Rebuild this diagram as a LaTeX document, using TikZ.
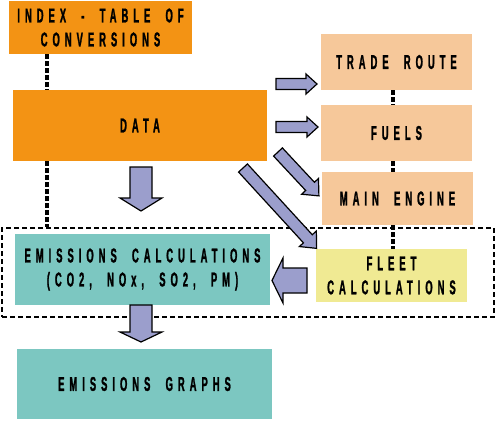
\documentclass[tikz,border=0pt]{standalone}
\usepackage{fontspec}
\newfontfamily\boxfont[FakeStretch=0.47,FakeBold=1.2,LetterSpace=25,WordSpace=2.0,BoldFont={Liberation Sans Bold}]{Liberation Sans}
\usetikzlibrary{calc}
\definecolor{dataorange}{HTML}{F39314}
\definecolor{peach}{HTML}{F6C89A}
\definecolor{fleetyellow}{HTML}{F0EA93}
\definecolor{calcteal}{HTML}{7CC7C1}
\definecolor{arrowblue}{HTML}{9B9ECC}
\tikzset{
  box/.style={inner sep=0pt,align=center,font=\boxfont\bfseries\fontsize{20}{24}\selectfont},
  link/.style={line width=3.5pt,dash pattern=on 4.5pt off 2.5pt},
  barrow/.style={draw=black,line width=1.2pt,fill=arrowblue,line join=miter}
}
% block arrow: tail, angle, length, shaft half width, head half width, head length
\newcommand{\BArrow}[6]{%
  \draw[barrow,shift={#1},rotate=#2]
    (0,-#4) -- (#3-#6,-#4) -- (#3-#6,-#5) -- (#3,0) -- (#3-#6,#5) -- (#3-#6,#4) -- (0,#4) -- cycle;}
\begin{document}
\begin{tikzpicture}[x=1pt,y=-1pt]
\useasboundingbox (0,0) rectangle (496,421);
% boxes
\node[box,fill=dataorange,minimum width=183,minimum height=53]
  (index) at (100.5,27.5) {INDEX - TABLE OF\\CONVERSIONS};
\node[box,fill=dataorange,minimum width=254,minimum height=71]
  (data) at (140,125.5) {DATA};
\node[box,fill=peach,minimum width=151,minimum height=56]
  (trade) at (396.5,62) {TRADE ROUTE};
\node[box,fill=peach,minimum width=151,minimum height=56]
  (fuels) at (396.5,133) {FUELS};
\node[box,fill=peach,minimum width=151,minimum height=53]
  (engine) at (397.5,198.5) {MAIN ENGINE};
\node[draw,line width=2.5pt,dash pattern=on 5pt off 3pt,minimum width=492,minimum height=89]
  (frame) at (248,272.5) {};
\node[box,fill=fleetyellow,minimum width=151,minimum height=53]
  (fleet) at (391.5,275.5) {FLEET\\CALCULATIONS};
\node[box,fill=calcteal,minimum width=255,minimum height=71]
  (calc) at (142.5,269.5) {EMISSIONS CALCULATIONS\\(CO2, NOx, SO2, PM)};
\node[box,fill=calcteal,minimum width=255,minimum height=70]
  (graphs) at (144.5,384) {EMISSIONS GRAPHS};
% dotted links
\draw[link] (47,0 |- index.south) -- (47,0 |- data.north);
\draw[link] (47,0 |- data.south) -- (47,0 |- frame.north);
\draw[link] (393,0 |- trade.south) -- (393,0 |- fuels.north);
\draw[link] (393,0 |- fuels.south) -- (393,0 |- engine.north);
\draw[link] (393,0 |- engine.south) -- (393,0 |- fleet.north);
% block arrows
\BArrow{(276,84)}{0}{41}{5.5}{10}{11}
\BArrow{(276,127)}{0}{42}{5.5}{10}{11}
\BArrow{(141,167)}{-90}{44}{11}{21}{13}
\BArrow{(278,152)}{-47}{60}{6}{11.5}{13}
\BArrow{(243,168)}{-47.5}{109}{6}{11.5}{13}
\BArrow{(307,280.5)}{180}{35}{12.5}{22.5}{11}
\BArrow{(141,305)}{-90}{37}{11}{21}{10}
\end{tikzpicture}
\end{document}
